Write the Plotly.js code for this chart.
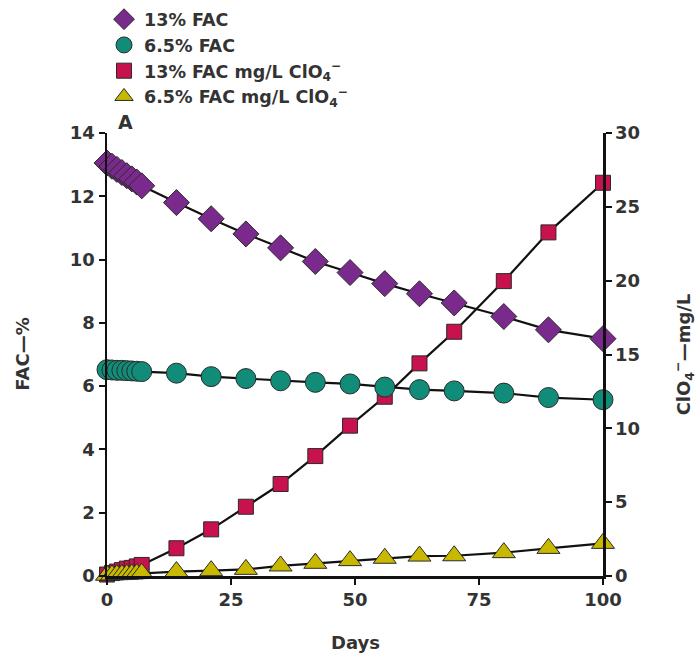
<!DOCTYPE html>
<html>
<head>
<meta charset="utf-8">
<script src="https://cdn.plot.ly/plotly-3.0.1.min.js"></script>
<style>html,body{margin:0;padding:0;background:#fff;}#chart{width:699px;height:655px;}</style>
</head>
<body>
<div id="chart"></div>
<script>
var days = [0,1,2,3,4,5,6,7,14,21,28,35,42,49,56,63,70,80,89,100];
var fac13 = [13.05,12.95,12.85,12.75,12.65,12.55,12.45,12.33,11.8,11.29,10.81,10.37,9.94,9.59,9.24,8.92,8.63,8.2,7.78,7.5];
var fac65 = [6.52,6.51,6.5,6.5,6.49,6.48,6.47,6.46,6.41,6.3,6.24,6.17,6.12,6.07,5.97,5.89,5.85,5.78,5.64,5.57];
var clo13 = [0.1,0.2,0.3,0.4,0.5,0.55,0.65,0.75,1.88,3.16,4.69,6.23,8.12,10.18,12.14,14.4,16.54,19.97,23.27,26.63];
var clo65 = [0.05,0.07,0.09,0.1,0.12,0.14,0.16,0.18,0.3,0.36,0.45,0.68,0.86,1.04,1.2,1.35,1.37,1.58,1.87,2.21];
var names = ['13% FAC','6.5% FAC','13% FAC mg/L ClO<sub>4</sub><sup>−</sup>','6.5% FAC mg/L ClO<sub>4</sub><sup>−</sup>'];
var xTicks = [0,25,50,75,100];
var yLeftTicks = [0,2,4,6,8,10,12,14];
var yRightTicks = [0,5,10,15,20,25,30];

var FAM = 'DejaVu Sans, sans-serif';
var outline = {color:'#2a2a2a', width:1};
var lineStyle = {color:'#111', width:2.2};
var font = {family:FAM, size:18, color:'#333'};

// ClO4 on base axis 'y' (right side), FAC on overlaying 'y2' (left side) so FAC draws on top
var traces = [
  {x:days, y:clo13, yaxis:'y', mode:'lines', line:lineStyle, showlegend:false, hoverinfo:'skip', cliponaxis:false},
  {x:days, y:clo65, yaxis:'y', mode:'lines', line:lineStyle, showlegend:false, hoverinfo:'skip', cliponaxis:false},
  {x:days, y:clo13, yaxis:'y', mode:'markers', name:names[2], legendrank:3, cliponaxis:false,
   marker:{symbol:'square', size:15, color:'#C8124E', line:outline}},
  {x:days, y:clo65, yaxis:'y', mode:'markers', name:names[3], legendrank:4, cliponaxis:false,
   marker:{symbol:'triangle-up', size:20, color:'#C9B800', line:outline}},
  {x:days, y:fac13, yaxis:'y2', mode:'lines', line:lineStyle, showlegend:false, hoverinfo:'skip', cliponaxis:false},
  {x:days, y:fac65, yaxis:'y2', mode:'lines', line:lineStyle, showlegend:false, hoverinfo:'skip', cliponaxis:false},
  {x:days, y:fac13, yaxis:'y2', mode:'markers', name:names[0], legendrank:1, cliponaxis:false,
   marker:{symbol:'diamond', size:20, color:'#7A2A8C', line:outline}},
  {x:days, y:fac65, yaxis:'y2', mode:'markers', name:names[1], legendrank:2, cliponaxis:false,
   marker:{symbol:'circle', size:20, color:'#108C78', line:outline}}
];

var axisCommon = {showgrid:false, zeroline:false, showline:true, linecolor:'#111', linewidth:2.5,
  ticks:'outside', ticklen:6, tickwidth:2, tickcolor:'#111',
  tickfont:{family:FAM, size:18, color:'#333', weight:'bold'}};

var layout = {
  width:699, height:655,
  margin:{l:107, r:96, t:133, b:79},
  paper_bgcolor:'#fff', plot_bgcolor:'#fff',
  font:font,
  showlegend:true,
  legend:{x:-0.006, xanchor:'left', yref:'container', y:0.998, yanchor:'top', bgcolor:'rgba(0,0,0,0)',
    font:{family:FAM, size:17.5, color:'#333', weight:'bold'},
    tracegroupgap:0, itemclick:false},
  xaxis:Object.assign({}, axisCommon, {range:[0,100], tickvals:xTicks, ticktext:xTicks.map(String)}),
  yaxis:Object.assign({}, axisCommon, {range:[0,30], side:'right', tickvals:yRightTicks, ticktext:yRightTicks.map(String)}),
  yaxis2:Object.assign({}, axisCommon, {range:[0,14], side:'left', overlaying:'y', tickvals:yLeftTicks, ticktext:yLeftTicks.map(String)}),
  annotations:[
    {text:'<b>FAC—%</b>', xref:'paper', yref:'paper', x:-0.171, y:0.5, xanchor:'center', yanchor:'middle', textangle:-90, showarrow:false,
     font:{family:FAM, size:18, color:'#333'}},
    {text:'<b>ClO<sub>4</sub><sup>−</sup>—mg/L</b>', xref:'paper', yref:'paper', x:1.161, y:0.5, xanchor:'center', yanchor:'middle', textangle:-90, showarrow:false,
     font:{family:FAM, size:18, color:'#333'}},
    {text:'<b>Days</b>', xref:'paper', yref:'paper', x:0.5, y:-0.151, xanchor:'center', yanchor:'middle', showarrow:false,
     font:{family:FAM, size:18, color:'#333'}},
    {text:'<b>A</b>', xref:'paper', yref:'paper', x:0.038, y:1.024, xanchor:'center', yanchor:'middle', showarrow:false,
     font:{family:FAM, size:19, color:'#333'}}
  ]
};

Plotly.newPlot('chart', traces, layout, {displayModeBar:false, staticPlot:true});
</script>
</body>
</html>
